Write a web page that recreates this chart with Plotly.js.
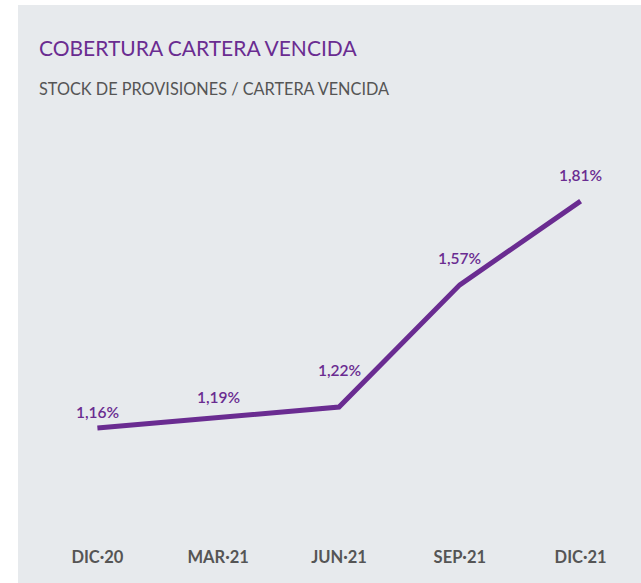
<!DOCTYPE html>
<html>
<head>
<meta charset="utf-8">
<script src="https://cdn.plot.ly/plotly-3.0.1.min.js"></script>
<style>
  html, body { margin: 0; padding: 0; background: #ffffff; }
  #chart { position: absolute; left: 18px; top: 5px; width: 623px; height: 578px; }
</style>
</head>
<body>
<div id="chart"></div>
<script>
// Data
const categories = ["DIC·20", "MAR·21", "JUN·21", "SEP·21", "DIC·21"];
const coverage = [1.16, 1.19, 1.22, 1.57, 1.81];
const labels = ["1,16%", "1,19%", "1,22%", "1,57%", "1,81%"];

// Styling
const purple = "#6a2c91";
const labelShift = [16, 20, 37, 27, 26];
const fontFam = "Lato, 'Open Sans', sans-serif";

const trace = {
  x: categories,
  y: coverage,
  type: "scatter",
  mode: "lines",
  line: { color: purple, width: 5 },
  hoverinfo: "skip"
};

const annotations = categories.map((c, i) => ({
  x: c, y: coverage[i], xref: "x", yref: "y",
  text: labels[i], showarrow: false,
  yshift: labelShift[i], yanchor: "middle",
  font: { family: fontFam, size: 15.5, color: purple, weight: 600 }
}));

annotations.push({
  xref: "paper", yref: "paper", x: 0, y: 1.1465, xanchor: "left", yanchor: "middle",
  text: "COBERTURA CARTERA VENCIDA", showarrow: false,
  font: { family: fontFam, size: 21, color: purple }
});
annotations.push({
  xref: "paper", yref: "paper", x: 0, y: 1.051, xanchor: "left", yanchor: "middle",
  text: "STOCK DE PROVISIONES / CARTERA VENCIDA", showarrow: false,
  font: { family: fontFam, size: 16.3, color: "#555555" }
});

const layout = {
  width: 623, height: 578,
  margin: { l: 19, r: 0, t: 105, b: 43, pad: 0 },
  paper_bgcolor: "#e7eaed",
  plot_bgcolor: "#e7eaed",
  showlegend: false,
  xaxis: {
    type: "category", range: [-0.5, 4.5],
    showgrid: false, zeroline: false, showline: false, ticks: "",
    ticklabelstandoff: 5,
    tickfont: { family: fontFam, size: 16.5, color: "#555555", weight: 700 },
    fixedrange: true
  },
  yaxis: {
    range: [0.839, 2.071],
    showgrid: false, zeroline: false, showline: false, showticklabels: false, ticks: "",
    fixedrange: true
  },
  annotations: annotations
};

Plotly.newPlot("chart", [trace], layout, { displayModeBar: false, staticPlot: true });
</script>
</body>
</html>
